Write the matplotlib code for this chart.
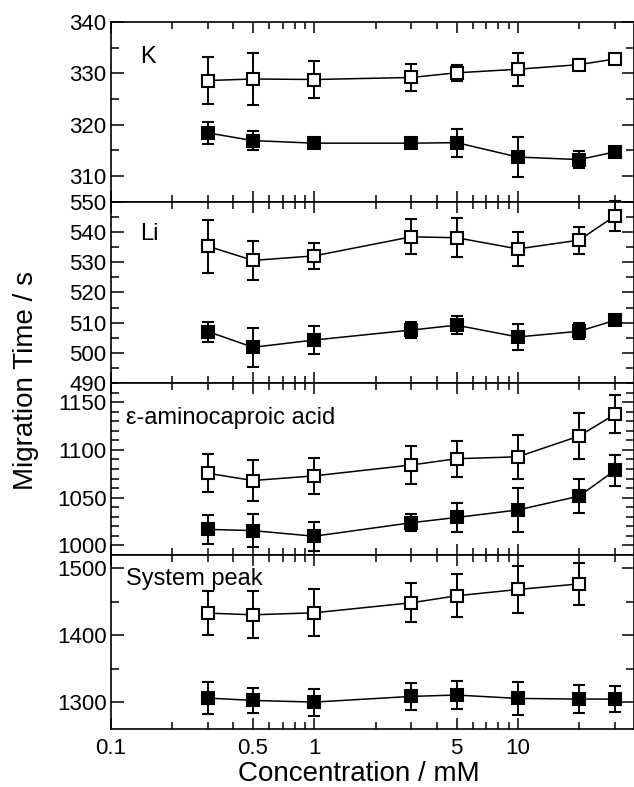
import numpy as np
import matplotlib
matplotlib.use('Agg')
import matplotlib.pyplot as plt
from matplotlib.ticker import FixedLocator, MultipleLocator, FuncFormatter, NullFormatter

plt.rcParams['font.family'] = ['Liberation Sans', 'DejaVu Sans']

conc = [0.3, 0.5, 1, 3, 5, 10, 20, 30]

# K
k_open = [328.6, 328.9, 328.8, 329.2, 330.1, 330.8, 331.7, 332.8]
k_open_err = [4.5, 5.1, 3.6, 2.6, 1.5, 3.2, 1.0, 1.0]
k_fill = [318.4, 316.9, 316.4, 316.4, 316.5, 313.7, 313.2, 314.7]
k_fill_err = [2.2, 1.8, 0.8, 1.0, 2.7, 3.9, 1.7, 0.8]

# Li
li_open = [535.3, 530.6, 532.1, 538.4, 538.1, 534.4, 537.3, 545.3]
li_open_err = [8.8, 6.4, 4.3, 5.8, 6.5, 5.5, 4.5, 5.0]
li_fill = [507.1, 501.9, 504.3, 507.6, 509.2, 505.3, 507.2, 510.8]
li_fill_err = [3.3, 6.5, 4.7, 2.7, 3.0, 4.2, 2.6, 1.0]

# epsilon-aminocaproic acid
ac_open = [1075.5, 1067.9, 1072.8, 1084.2, 1090.8, 1092.8, 1114.6, 1137.5]
ac_open_err = [20, 22, 19, 20, 19, 23, 24, 20]
ac_fill = [1016.6, 1015.3, 1009.4, 1023.6, 1029.1, 1037.0, 1051.5, 1078.6]
ac_fill_err = [15.5, 17, 15, 8.7, 15.4, 23, 18, 16]

# System peak (no open point at 30 mM)
sp_conc_open = [0.3, 0.5, 1, 3, 5, 10, 20]
sp_open = [1433, 1430.5, 1433.5, 1448.4, 1458.8, 1468.2, 1476.5]
sp_open_err = [33, 35, 35, 29, 32, 35, 31]
sp_fill = [1306.5, 1303, 1300.5, 1309, 1311, 1306, 1305, 1305]
sp_fill_err = [23.6, 18.6, 20, 19.6, 21, 25, 20.6, 19.8]

panels = [
    dict(name='K', lim=(305, 340), major=10, minor=5, pos=(0.056, 0.772),
         open=(conc, k_open, k_open_err), fill=(conc, k_fill, k_fill_err)),
    dict(name='Li', lim=(490, 550), major=10, minor=5, pos=(0.056, 0.789),
         open=(conc, li_open, li_open_err), fill=(conc, li_fill, li_fill_err)),
    dict(name='\u03b5-aminocaproic acid', lim=(990, 1170), major=50, minor=10, pos=(0.029, 0.762),
         open=(conc, ac_open, ac_open_err), fill=(conc, ac_fill, ac_fill_err)),
    dict(name='System peak', lim=(1260, 1520), major=100, minor=50, pos=(0.029, 0.826),
         open=(sp_conc_open, sp_open, sp_open_err), fill=(conc, sp_fill, sp_fill_err)),
]

W, H = 634, 787
fig = plt.figure(figsize=(W / 100, H / 100), dpi=100)
gs = fig.add_gridspec(4, 1, height_ratios=[179.7, 181.6, 171.4, 174.6], hspace=0,
                      left=110.7 / W, right=633.5 / W, top=1 - 22 / H, bottom=1 - 729.3 / H)

for i, p in enumerate(panels):
    ax = fig.add_subplot(gs[i])
    ax.set_xscale('log')
    ax.set_xlim(0.1, 37)
    ax.set_ylim(*p['lim'])
    ax.xaxis.set_major_locator(FixedLocator([0.1, 0.5, 1, 5, 10]))
    ax.xaxis.set_minor_locator(FixedLocator([0.2, 0.3, 0.4, 0.6, 0.7, 0.8, 0.9,
                                             2, 3, 4, 6, 7, 8, 9, 20, 30]))
    ax.xaxis.set_minor_formatter(NullFormatter())
    if i == 3:
        ax.xaxis.set_major_formatter(FuncFormatter(lambda v, _: '%g' % v))
    else:
        ax.xaxis.set_major_formatter(NullFormatter())
    ax.yaxis.set_major_locator(MultipleLocator(p['major']))
    ax.yaxis.set_minor_locator(MultipleLocator(p['minor']))
    ax.tick_params(which='both', direction='in', top=True, right=True, width=1.1,
                   labelsize=16)
    ax.tick_params(axis='x', which='major', length=8, pad=6)
    ax.tick_params(axis='x', which='minor', length=5)
    ax.tick_params(axis='y', which='major', length=9, pad=3)
    ax.tick_params(axis='y', which='minor', length=5.5)
    for s in ax.spines.values():
        s.set_linewidth(1.2)

    for key, fc in (('open', 'white'), ('fill', 'black')):
        xs, ys, es = p[key]
        ax.errorbar(xs, ys, yerr=es, fmt='s-', color='black', mfc=fc, mec='black',
                    ms=9, mew=1.5, lw=1.1, elinewidth=1.4, capsize=4.5, capthick=1.4,
                    clip_on=False, zorder=3)

    ax.text(p['pos'][0], p['pos'][1], p['name'], transform=ax.transAxes,
            fontsize=17, va='baseline', ha='left')

fig.text(359 / W, 1 - 781 / H, 'Concentration / mM', fontsize=20, ha='center', va='baseline')
fig.text(13 / W, 1 - 380 / H, 'Migration Time / s', fontsize=20, rotation=90,
         ha='left', va='center')

fig.savefig('out.png', dpi=100)
